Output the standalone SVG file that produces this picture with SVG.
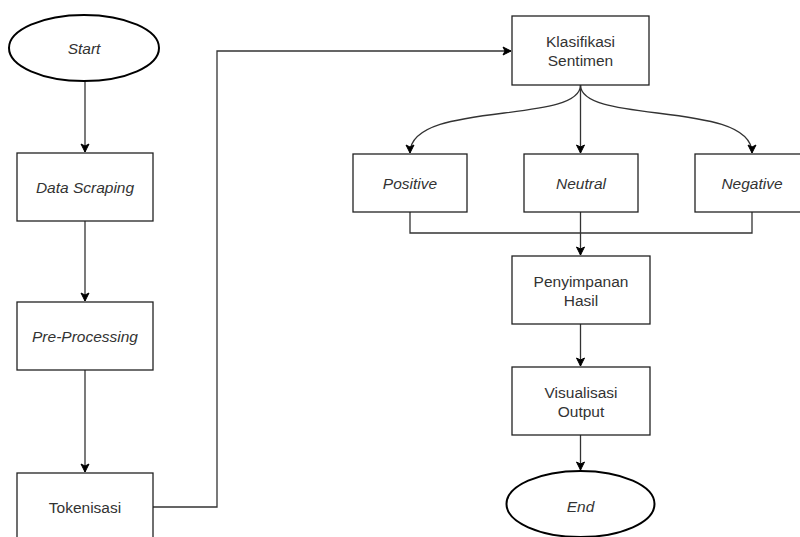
<svg xmlns="http://www.w3.org/2000/svg" width="800" height="537" viewBox="0 0 800 537">
<defs>
<marker id="arr" viewBox="0 0 10 10" refX="9" refY="5" markerWidth="10" markerHeight="10" markerUnits="userSpaceOnUse" orient="auto">
<path d="M1,1 L9,5 L1,9 L3,5 Z" fill="#000" stroke="#000" stroke-width="1"/>
</marker>
<style>
.box{fill:#fff;stroke:#222;stroke-width:1.3}
.term{fill:#fff;stroke:#000;stroke-width:2}
.t{font-family:"Liberation Sans",Arial,sans-serif;font-size:15.5px;fill:#333;text-anchor:middle}
.i{font-style:italic}
.c{fill:none;stroke:#333;stroke-width:1.3}
.a{marker-end:url(#arr)}
</style>
</defs>
<rect width="800" height="537" fill="#fff"/>
<g id="connectors">
<path class="c a" d="M85,81 V152"/>
<path class="c a" d="M85,221 V301"/>
<path class="c a" d="M85,370 V472"/>
<path class="c a" d="M153,507 H217 V51 H511"/>
<path class="c a" d="M580.5,85 C580.5,125 410,100 410,153"/>
<path class="c a" d="M580.5,85 V153"/>
<path class="c a" d="M580.5,85 C580.5,125 752,100 752,153"/>
<path class="c" d="M410,212 V233 H752 V212"/>
<path class="c a" d="M580.5,212 V255"/>
<path class="c a" d="M580.5,324 V366"/>
<path class="c a" d="M580.5,435 V470"/>
</g>
<g id="start"><ellipse class="term" cx="84" cy="48" rx="75" ry="33"/><text class="t i" x="84" y="53.5">Start</text></g>
<g id="data-scraping"><rect class="box" x="17" y="153" width="136" height="68"/><text class="t i" x="85" y="192.5">Data Scraping</text></g>
<g id="pre-processing"><rect class="box" x="17" y="302" width="136" height="68"/><text class="t i" x="85" y="341.5">Pre-Processing</text></g>
<g id="tokenisasi"><rect class="box" x="17" y="473" width="136" height="68"/><text class="t" x="85" y="512.5">Tokenisasi</text></g>
<g id="klasifikasi"><rect class="box" x="512" y="16" width="137" height="69"/><text class="t" x="580.5" y="47">Klasifikasi</text><text class="t" x="580.5" y="66">Sentimen</text></g>
<g id="positive"><rect class="box" x="353" y="154" width="114" height="58"/><text class="t i" x="410" y="188.5">Positive</text></g>
<g id="neutral"><rect class="box" x="524" y="154" width="114" height="58"/><text class="t i" x="581" y="188.5">Neutral</text></g>
<g id="negative"><rect class="box" x="695" y="154" width="114" height="58"/><text class="t i" x="752" y="188.5">Negative</text></g>
<g id="penyimpanan"><rect class="box" x="512" y="256" width="138" height="68"/><text class="t" x="581" y="287">Penyimpanan</text><text class="t" x="581" y="306">Hasil</text></g>
<g id="visualisasi"><rect class="box" x="512" y="367" width="138" height="68"/><text class="t" x="581" y="398">Visualisasi</text><text class="t" x="581" y="417">Output</text></g>
<g id="end"><ellipse class="term" cx="580.5" cy="504" rx="74" ry="33"/><text class="t i" x="580.5" y="512">End</text></g>
</svg>
